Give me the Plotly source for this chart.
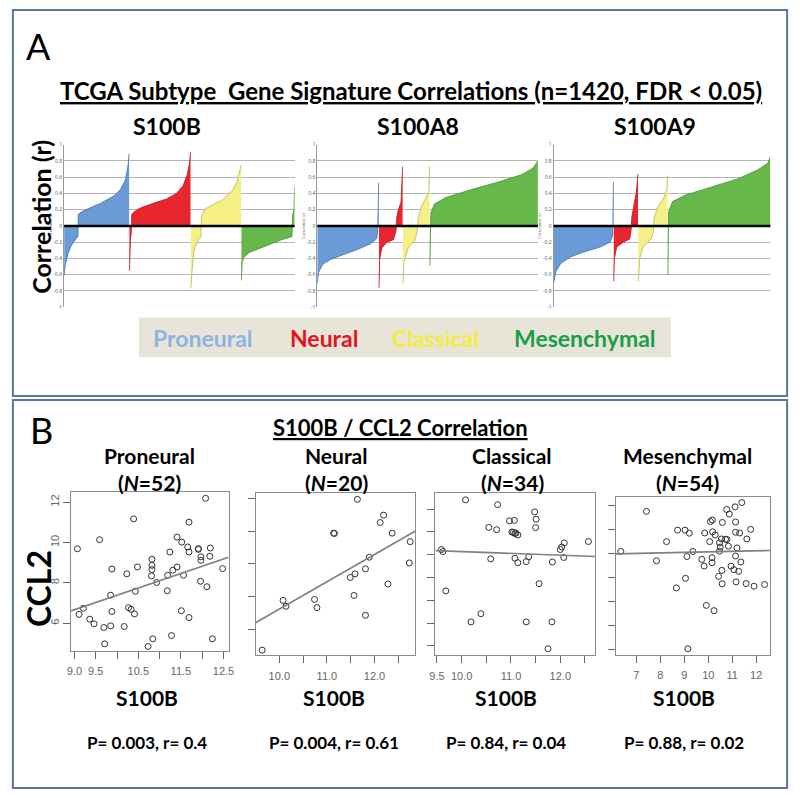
import plotly.graph_objects as go

W, H = 800, 798
def px(x): return x / W
def py(y): return 1 - y / H

# ---------------- Panel A data (gene rank, correlation r) ----------------
B_PN_RANK = [0, 8, 24, 44, 64, 84, 86, 104, 144, 224, 304, 344, 374, 390, 396]
B_PN_R = [-0.61, -0.47, -0.34, -0.24, -0.18, -0.13, 0.14, 0.17, 0.21, 0.28, 0.37, 0.45, 0.57, 0.75, 0.89]
B_NE_RANK = [398, 401, 404, 410, 412, 424, 464, 544, 624, 684, 724, 750, 764, 770]
B_NE_R = [-0.55, -0.30, -0.18, -0.06, 0.14, 0.17, 0.22, 0.28, 0.33, 0.40, 0.49, 0.63, 0.77, 0.91]
B_CL_RANK = [772, 776, 784, 794, 814, 834, 836, 854, 904, 964, 1024, 1054, 1068, 1078]
B_CL_R = [-0.77, -0.60, -0.42, -0.28, -0.18, -0.14, 0.11, 0.20, 0.26, 0.32, 0.43, 0.55, 0.67, 0.75]
B_ME_RANK = [1080, 1084, 1094, 1124, 1224, 1324, 1374, 1388, 1392, 1400, 1404]
B_ME_R = [-0.67, -0.45, -0.39, -0.33, -0.25, -0.17, -0.14, -0.13, 0.13, 0.20, 0.49]

A8_PN_RANK = [0, 8, 34, 84, 164, 244, 324, 360, 368, 372, 374]
A8_PN_R = [-0.71, -0.57, -0.47, -0.41, -0.35, -0.29, -0.22, -0.16, -0.08, 0.30, 0.53]
A8_NE_RANK = [376, 380, 394, 424, 464, 480, 484, 494, 510, 516, 520]
A8_NE_R = [-0.76, -0.41, -0.27, -0.20, -0.17, -0.06, 0.10, 0.20, 0.29, 0.53, 0.73]
A8_CL_RANK = [522, 528, 554, 594, 608, 614, 634, 664, 680, 684]
A8_CL_R = [-0.71, -0.45, -0.27, -0.18, -0.08, 0.08, 0.24, 0.35, 0.43, 0.73]
A8_ME_RANK = [686, 688, 692, 714, 784, 944, 1104, 1244, 1314, 1344]
A8_ME_R = [-0.49, -0.08, 0.16, 0.27, 0.35, 0.45, 0.54, 0.63, 0.71, 0.80]

A9_PN_RANK = [0, 14, 44, 104, 184, 284, 344, 360, 364]
A9_PN_R = [-0.70, -0.56, -0.46, -0.38, -0.32, -0.26, -0.20, -0.11, 0.54]
A9_NE_RANK = [366, 370, 384, 424, 464, 472, 476, 488, 504, 514]
A9_NE_R = [-0.68, -0.40, -0.26, -0.20, -0.16, -0.05, 0.11, 0.23, 0.42, 0.64]
A9_CL_RANK = [516, 524, 544, 594, 608, 610, 634, 674, 690, 694]
A9_CL_R = [-0.68, -0.40, -0.26, -0.16, -0.07, 0.09, 0.23, 0.36, 0.46, 0.62]
A9_ME_RANK = [696, 698, 700, 724, 804, 964, 1124, 1244, 1304, 1320]
A9_ME_R = [-0.60, -0.03, 0.17, 0.30, 0.38, 0.48, 0.58, 0.69, 0.77, 0.85]

GENES = ["S100B", "S100A8", "S100A9"]
SUBTYPES = ["Proneural", "Neural", "Classical", "Mesenchymal"]
R_TICKS = [-1, -0.8, -0.6, -0.4, -0.2, 0, 0.2, 0.4, 0.6, 0.8, 1]
R_TICKTEXT = ["-1", "-0.8", "-0.6", "-0.4", "-0.2", "0", "0.2", "0.4", "0.6", "0.8", "1"]

# ---------------- Panel B data (S100B vs CCL2) ----------------
PN_X = [9.07, 9.59, 10.39, 12.08, 9.88, 10.23, 10.48, 10.82, 10.82, 10.81, 10.93, 11.19, 11.24, 11.31,
        11.41, 11.41, 11.52, 11.56, 11.66, 11.69, 11.69, 11.91, 11.97, 11.97, 12.19, 12.18, 12.48, 11.96,
        12.11, 11.18, 10.43, 9.85, 9.88, 10.27, 10.33, 10.41, 11.51, 11.69, 9.11, 9.21, 9.36, 9.46, 9.69,
        9.85, 10.17, 9.71, 10.73, 10.84, 11.28, 12.24, 11.91, 10.82]
PN_Y = [9.69, 10.14, 11.17, 12.19, 8.69, 8.45, 8.79, 8.87, 9.17, 8.35, 8.02, 8.38, 9.53, 8.63,
        8.79, 10.27, 10.02, 8.38, 9.78, 11.01, 9.53, 9.66, 9.29, 9.12, 9.73, 9.32, 8.71, 8.08,
        7.81, 7.61, 7.59, 7.39, 6.58, 6.77, 6.69, 6.46, 6.62, 6.28, 6.44, 6.74, 6.20, 5.97, 5.79,
        5.87, 5.84, 4.98, 4.85, 5.23, 5.39, 5.23, 9.70, 8.66]
NE_X = [11.64, 12.19, 12.12, 12.37, 11.14, 11.16, 12.75, 11.89, 12.73, 11.59, 11.49, 11.81, 12.28,
        11.57, 11.81, 10.74, 10.79, 10.08, 10.14, 9.64]
NE_Y = [11.94, 10.97, 10.52, 9.87, 9.87, 9.85, 9.35, 8.40, 8.05, 7.38, 7.16, 7.69, 6.76,
        6.06, 4.85, 5.82, 5.32, 5.76, 5.40, 2.72]
CL_X = [10.08, 10.73, 11.48, 11.51, 11.50, 10.97, 11.07, 10.55, 10.71, 11.05, 11.08, 11.14, 12.57,
        12.08, 12.03, 12.00, 12.07, 9.59, 9.62, 10.59, 11.08, 11.14, 11.31, 11.36, 11.84, 11.57, 9.68,
        10.39, 10.19, 11.31, 11.83, 11.75, 11.02, 11.10]
CL_Y = [12.41, 12.20, 11.88, 11.56, 11.19, 11.49, 11.51, 11.20, 11.10, 10.98, 10.93, 10.87, 10.58,
        10.52, 10.34, 10.23, 9.88, 10.23, 10.14, 9.82, 9.85, 9.65, 9.70, 9.91, 9.68, 8.73, 8.41,
        7.41, 7.05, 7.05, 7.05, 5.87, 11.00, 10.95]
ME_X = [6.35, 7.42, 8.26, 7.84, 8.72, 9.03, 9.21, 9.36, 9.11, 9.05, 8.67, 9.85, 10.06, 10.09, 10.17,
        10.18, 10.29, 10.59, 10.55, 10.72, 10.78, 10.47, 10.50, 10.47, 10.84, 10.77, 10.88, 11.12, 11.40,
        11.14, 11.14, 11.31, 11.77, 11.61, 11.20, 11.14, 11.36, 9.73, 9.83, 10.16, 10.16, 10.57, 10.95,
        11.07, 11.27, 10.43, 10.58, 11.16, 11.58, 11.91, 12.35, 9.92, 10.24, 9.15]
ME_Y = [10.10, 11.77, 10.51, 9.71, 10.99, 10.99, 10.86, 10.10, 9.89, 8.98, 8.58, 10.87, 10.51, 11.35,
        11.41, 10.92, 10.79, 11.31, 10.62, 10.61, 10.60, 10.46, 10.28, 10.11, 10.32, 11.85, 11.66, 11.96,
        12.14, 11.33, 10.90, 10.87, 11.02, 10.62, 10.25, 9.91, 9.66, 9.77, 9.49, 9.84, 9.63, 9.31, 9.49,
        9.34, 9.27, 9.06, 8.75, 8.83, 8.76, 8.65, 8.72, 7.85, 7.63, 6.04]
# fitted line: (value at x0, slope)
FIT_X0 = [8.92, 9.50, 9.47, 6.15]
FIT_Y0 = [6.61, 4.39, 10.18, 10.00]
FIT_SLOPE = [0.72, 1.67, -0.08, 0.022]
N_SAMPLES = [52, 20, 34, 54]
P_VALUES = ["0.003", "0.004", "0.84", "0.88"]
R_VALUES = ["0.4", "0.61", "0.04", "0.02"]

# ---------------- styling ----------------
FILL = {"Proneural": "#6b9bd6", "Neural": "#e8262d", "Classical": "#f6ef86", "Mesenchymal": "#66b84a"}
EDGE = {"Proneural": "#3f6fae", "Neural": "#b8151c", "Classical": "#bdb55a", "Mesenchymal": "#3f8f2c"}
LEG_COL = {"Proneural": "#8db4e2", "Neural": "#e3141e", "Classical": "#f4ec3c", "Mesenchymal": "#16a04a"}
TFONT = "Lato, 'Open Sans', sans-serif"

fig = go.Figure()

panelA = [
    [(B_PN_RANK, B_PN_R), (B_NE_RANK, B_NE_R), (B_CL_RANK, B_CL_R), (B_ME_RANK, B_ME_R)],
    [(A8_PN_RANK, A8_PN_R), (A8_NE_RANK, A8_NE_R), (A8_CL_RANK, A8_CL_R), (A8_ME_RANK, A8_ME_R)],
    [(A9_PN_RANK, A9_PN_R), (A9_NE_RANK, A9_NE_R), (A9_CL_RANK, A9_CL_R), (A9_ME_RANK, A9_ME_R)],
]
xranges_A = [[0, 1404], [0, 1344], [0, 1320]]
domx_A = [(59, 293), (316, 540), (556, 776)]
A_top, A_bot = 142.7, 306.5

for i, series in enumerate(panelA):
    ax = "" if i == 0 else str(i + 1)
    for st, (xs, ys) in zip(SUBTYPES, series):
        fig.add_trace(go.Scatter(
            x=xs, y=ys, mode="lines", fill="tozeroy",
            fillcolor=FILL[st], line=dict(color=EDGE[st], width=0.8),
            xaxis="x" + ax, yaxis="y" + ax, showlegend=False, hoverinfo="skip"))
    fig.update_layout(**{
        "xaxis" + ax: dict(domain=[px(domx_A[i][0]), px(domx_A[i][1])], range=xranges_A[i],
                           visible=False, anchor="y" + ax),
        "yaxis" + ax: dict(domain=[py(A_bot), py(A_top)], range=[-1, 1], anchor="x" + ax,
                           tickvals=R_TICKS, ticktext=R_TICKTEXT, showgrid=True,
                           gridcolor="#b4b4b4", gridwidth=1, zeroline=False,
                           showline=True, linecolor="#9a9a9a", linewidth=1, ticks="",
                           tickfont=dict(size=5, color="#555"),
                           title=dict(text="Correlation (r)", font=dict(size=4, color="#666"), standoff=1)),
    })
    fig.add_shape(type="line", xref="x" + ax + " domain", yref="y" + ax, x0=0, x1=1, y0=0, y1=0,
                  line=dict(color="black", width=2.5), layer="above")

# ---------------- Panel B ----------------
scat = [(PN_X, PN_Y), (NE_X, NE_Y), (CL_X, CL_Y), (ME_X, ME_Y)]
domx_B = [(66, 226), (253.3, 415.7), (436, 598.3), (619.3, 775.7)]
domy_B = [(493, 653), (493.3, 657.3), (493.3, 657.3), (497.3, 656.7)]
xr_B = [[8.92, 12.62], [9.50, 12.86], [9.47, 12.71], [6.15, 12.58]]
yr_B = [[4.62, 12.49], [2.40, 12.35], [5.58, 12.73], [5.79, 12.39]]
xt_vals = [[9.0, 9.5, 10.0, 10.5, 11.0, 11.5, 12.0, 12.5],
           [10.0, 10.5, 11.0, 11.5, 12.0, 12.5],
           [9.5, 10.0, 10.5, 11.0, 11.5, 12.0, 12.5],
           [7, 8, 9, 10, 11, 12]]
xt_text = [["9.0", "9.5", "", "10.5", "", "11.5", "", "12.5"],
           ["10.0", "", "11.0", "", "12.0", ""],
           ["9.5", "10.0", "", "11.0", "", "12.0", ""],
           ["7", "8", "9", "10", "11", "12"]]
yt_vals = [[6, 8, 10, 12], [4, 6, 8, 10, 12], [6, 7, 8, 9, 10, 11, 12], [6, 7, 8, 9, 10, 11, 12]]

for j, (xs, ys) in enumerate(scat):
    k = str(j + 4)
    fig.add_trace(go.Scatter(x=xs, y=ys, mode="markers", xaxis="x" + k, yaxis="y" + k,
                             marker=dict(symbol="circle-open", size=6, color="#333",
                                         line=dict(width=1, color="#333")),
                             showlegend=False, hoverinfo="skip"))
    x0, x1 = xr_B[j]
    fig.add_trace(go.Scatter(x=[x0, x1],
                             y=[FIT_Y0[j] + FIT_SLOPE[j] * (x0 - FIT_X0[j]),
                                FIT_Y0[j] + FIT_SLOPE[j] * (x1 - FIT_X0[j])],
                             mode="lines", line=dict(color="#808080", width=1.6),
                             xaxis="x" + k, yaxis="y" + k, showlegend=False, hoverinfo="skip"))
    fig.update_layout(**{
        "xaxis" + k: dict(domain=[px(domx_B[j][0]), px(domx_B[j][1])], range=xr_B[j], anchor="y" + k,
                          showline=True, mirror=True, linecolor="#8a8a8a", linewidth=1,
                          showgrid=False, zeroline=False, ticks="outside", ticklen=7,
                          tickcolor="#666", tickvals=xt_vals[j], ticktext=xt_text[j],
                          ticklabelstandoff=3,
                          tickfont=dict(family="Liberation Sans, Arial", size=11, color="#666")),
        "yaxis" + k: dict(domain=[py(domy_B[j][1]), py(domy_B[j][0])], range=yr_B[j], anchor="x" + k,
                          showline=True, mirror=True, linecolor="#8a8a8a", linewidth=1,
                          showgrid=False, zeroline=False, ticks="outside", ticklen=7,
                          tickcolor="#666", tickvals=yt_vals[j], showticklabels=(j == 0),
                          tickangle=-90,
                          tickfont=dict(family="Liberation Sans, Arial", size=11, color="#666")),
    })

# ---------------- frames, legend box ----------------
BORDER = "#56789e"
fig.add_shape(type="rect", xref="paper", yref="paper", x0=px(7), x1=px(793), y0=py(396), y1=py(7),
              line=dict(color=BORDER, width=2))
fig.add_shape(type="rect", xref="paper", yref="paper", x0=px(7), x1=px(793), y0=py(791), y1=py(400),
              line=dict(color=BORDER, width=2))
fig.add_shape(type="rect", xref="paper", yref="paper", x0=px(135), x1=px(675), y0=py(357), y1=py(317),
              line=dict(width=0), fillcolor="#e8e5d8", layer="below")

ann = []
def text(x, y, s, size, bold=False, color="black", xanchor="center", angle=0, family=TFONT):
    ann.append(dict(x=px(x), y=py(y), xref="paper", yref="paper", text=("<b>%s</b>" % s) if bold else s,
                    showarrow=False, xanchor=xanchor, yanchor="middle", textangle=angle,
                    font=dict(family=family, size=size, color=color)))

text(18, 43, "A", 36, xanchor="left")
text(411, 88, "<u>TCGA Subtype  Gene Signature Correlations (n=1420, FDR &lt; 0.05)</u>", 24, bold=True)
for g, cx in zip(GENES, [163, 418, 659]):
    text(cx, 124, g, 23, bold=True)
text(36, 215, "Correlation (r)", 25, bold=True, angle=-90)
for st, cx in zip(SUBTYPES, [200, 323, 436, 588]):
    text(cx, 338, st, 23, bold=True, color=LEG_COL[st])

text(22, 430, "B", 36, xanchor="left")
text(400, 428, "<u>S100B / CCL2 Correlation</u>", 22, bold=True)
col_c = [146, 336, 514, 692]
for st, n, cx in zip(SUBTYPES, N_SAMPLES, col_c):
    text(cx, 456, st, 21, bold=True)
    text(cx, 483, "(<i>N</i>=%d)" % n, 21, bold=True)
text(33, 590, "CCL2", 32, bold=True, angle=-90)
lab_c = [143, 333, 508, 688]
for j, cx in enumerate(lab_c):
    text(cx, 700, "S100B", 21, bold=True)
    text(cx, 745, "P= %s, r= %s" % (P_VALUES[j], R_VALUES[j]), 17, bold=True)

fig.update_layout(width=W, height=H, margin=dict(l=0, r=0, t=0, b=0),
                  paper_bgcolor="white", plot_bgcolor="white", annotations=ann, showlegend=False)

fig.write_html("out.html", config={"displayModeBar": False},
               post_script="document.body.style.margin='0px';")
